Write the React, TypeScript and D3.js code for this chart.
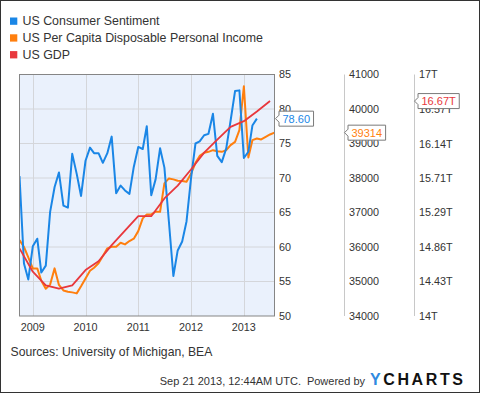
import { useEffect, useRef } from 'react'
import * as d3 from 'd3'

// University of Michigan consumer sentiment, monthly Sep 2008 .. Mar 2013
const sentiment = [
  70.3, 57.6, 55.3, 60.1,
  61.2, 56.3, 57.3, 65.1, 68.7, 70.8, 66.0, 65.7, 73.5, 70.6, 67.4, 72.5,
  74.4, 73.6, 73.6, 72.2, 73.6, 76.0, 67.8, 68.9, 68.2, 67.7, 71.6, 74.5,
  74.2, 77.5, 67.5, 69.8, 74.3, 71.5, 63.7, 55.8, 59.5, 60.8, 63.7, 69.9,
  75.0, 75.3, 76.2, 76.4, 79.3, 73.2, 72.3, 74.3, 78.3, 82.6, 82.7, 72.9,
  73.8, 77.6, 78.6,
]

// per capita disposable personal income, monthly Sep 2008 .. Jul 2013
const income = [
  36200, 36000, 35700, 35380,
  35380, 35020, 34790, 34910, 35380, 34900, 34740, 34705, 34685, 34656, 34860, 35090,
  35310, 35400, 35530, 35740, 35960, 36008, 36008, 36124, 36075, 36172, 36240, 36460,
  36829, 36945, 36945, 37022, 37022, 37843, 37988, 37960, 37920, 37910, 37890, 38120,
  38440, 38640, 38730, 38758, 38807, 38778, 38758, 38807, 38952, 39048, 39387, 40660,
  38596, 39097, 39146, 39117, 39193, 39262, 39314,
]

// nominal GDP (trillions), quarterly Q3 2008 .. Q2 2013
const gdp = [
  14.84, 14.55, 14.38, 14.34, 14.38, 14.57, 14.68, 14.88, 15.06, 15.24,
  15.24, 15.46, 15.62, 15.82, 16.03, 16.19, 16.35, 16.42, 16.54, 16.67,
]

const years = [2009, 2010, 2011, 2012, 2013]
const sentimentTicks = [50, 55, 60, 65, 70, 75, 80, 85]
const incomeTicks = [34000, 35000, 36000, 37000, 38000, 39000, 40000, 41000]
const gdpTicks = [14, 14.43, 14.86, 15.29, 15.71, 16.14, 16.57, 17]

const seriesNames = ['US Consumer Sentiment', 'US Per Capita Disposable Personal Income', 'US GDP']
const colors = ['#1a86e6', '#ff7f0e', '#e8383d']

const FONT = '"Liberation Sans", Arial, sans-serif'

// monthly values are stamped at the end of their month, quarterly at quarter end
const monthEnd = (i: number) => new Date(2008, 9 + i, 1)
const quarterEnd = (i: number) => new Date(2008, 9 + 3 * i, 1)

export default function App() {
  const svgRef = useRef<SVGSVGElement>(null)

  useEffect(() => {
    if (!svgRef.current) return
    const width = 480
    const height = 393
    const plot = { left: 19.5, right: 274.5, top: 74.5, bottom: 316 }

    const svg = d3.select(svgRef.current)
    svg.selectAll('*').remove()
    svg.attr('width', width).attr('height', height)

    svg.append('rect')
      .attr('x', 0.5).attr('y', 0.5).attr('width', width - 1).attr('height', height - 1)
      .attr('fill', '#fff').attr('stroke', '#333')

    const x = d3.scaleTime()
      .domain([new Date(2008, 9, 1), new Date(2013, 7, 1)])
      .range([plot.left, plot.right])
    const ySent = d3.scaleLinear().domain([50, 85]).range([plot.bottom, plot.top])
    const yInc = d3.scaleLinear().domain([34000, 41000]).range([plot.bottom, plot.top])
    const yGdp = d3.scaleLinear().domain([14, 17]).range([plot.bottom, plot.top])

    // Legend
    seriesNames.forEach((name, i) => {
      const y = 17.5 + i * 16.8
      svg.append('rect').attr('x', 10).attr('y', y).attr('width', 7.3).attr('height', 7.3).attr('fill', colors[i])
      svg.append('text').attr('x', 22.5).attr('y', y + 7.6)
        .attr('font-family', FONT).attr('font-size', '12.4px').attr('fill', '#333')
        .text(name)
    })

    // Plot background
    svg.append('rect')
      .attr('x', plot.left).attr('y', plot.top)
      .attr('width', plot.right - plot.left).attr('height', plot.bottom - plot.top)
      .attr('fill', '#eaf1fc')

    const grid = svg.append('g').attr('stroke', '#d4d6da').attr('stroke-width', 1)
    sentimentTicks.slice(1, -1).forEach(t => {
      grid.append('line').attr('x1', plot.left).attr('x2', plot.right)
        .attr('y1', ySent(t)).attr('y2', ySent(t))
    })
    years.forEach(yr => {
      const px = Math.round(x(new Date(yr, 0, 1))) + 0.5
      grid.append('line').attr('x1', px).attr('x2', px).attr('y1', plot.top).attr('y2', plot.bottom)
    })

    svg.append('defs').append('clipPath').attr('id', 'plot-clip')
      .append('rect').attr('x', plot.left).attr('y', plot.top - 2)
      .attr('width', plot.right - plot.left).attr('height', plot.bottom - plot.top + 2)

    const lines = svg.append('g').attr('clip-path', 'url(#plot-clip)')

    const drawLine = (vals: number[], dateOf: (i: number) => Date, y: d3.ScaleLinear<number, number>, color: string, w: number) => {
      const line = d3.line<number>().x((_, i) => x(dateOf(i))).y(d => y(d))
      lines.append('path').datum(vals)
        .attr('fill', 'none').attr('stroke', color).attr('stroke-width', w)
        .attr('stroke-linejoin', 'round')
        .attr('d', line)
    }
    drawLine(income, monthEnd, yInc, colors[1], 2)
    drawLine(sentiment, monthEnd, ySent, colors[0], 2)
    drawLine(gdp, quarterEnd, yGdp, colors[2], 1.8)

    svg.append('rect')
      .attr('x', plot.left).attr('y', plot.top)
      .attr('width', plot.right - plot.left).attr('height', plot.bottom - plot.top)
      .attr('fill', 'none').attr('stroke', '#858585')

    // X axis labels
    years.forEach(yr => {
      svg.append('text')
        .attr('x', x(new Date(yr, 0, 1))).attr('y', 330.5)
        .attr('text-anchor', 'middle')
        .attr('font-family', FONT).attr('font-size', '10.8px').attr('fill', '#333')
        .text(String(yr))
    })

    // Right axes
    const axes = [
      { x: plot.right, ticks: sentimentTicks, scale: ySent, fmt: (v: number) => String(v), line: false },
      { x: 344.5, ticks: incomeTicks, scale: yInc, fmt: (v: number) => String(v), line: true },
      { x: 414.5, ticks: gdpTicks, scale: yGdp, fmt: (v: number) => `${v}T`, line: true },
    ]
    axes.forEach(a => {
      if (a.line) {
        svg.append('line').attr('x1', a.x).attr('x2', a.x)
          .attr('y1', plot.top).attr('y2', plot.bottom)
          .attr('stroke', '#c8c8c8')
      }
      a.ticks.forEach(t => {
        svg.append('text')
          .attr('x', a.x + 4.5).attr('y', a.scale(t))
          .attr('dy', '0.35em')
          .attr('font-family', FONT).attr('font-size', '10.8px').attr('fill', '#333')
          .text(a.fmt(t))
      })
    })

    // Last value flags (drawn over the tick labels, as in the original)
    const flag = (tipX: number, y: number, label: string, color: string) => {
      const g = svg.append('g')
      const path = g.append('path')
      const txt = g.append('text')
        .attr('x', tipX + 7).attr('y', y).attr('dy', '0.36em')
        .attr('font-family', FONT).attr('font-size', '11px').attr('fill', color)
        .text(label)
      const w = (txt.node() as SVGTextElement).getComputedTextLength() + 7
      const bx = tipX + 3.5
      const h = 7.5
      path.attr('d', `M${tipX},${y} L${bx},${y - 3.5} L${bx},${y - h} L${bx + w},${y - h} L${bx + w},${y + h} L${bx},${y + h} L${bx},${y + 3.5} Z`)
        .attr('fill', '#fff').attr('stroke', '#7a7a7a')
    }
    flag(plot.right + 1, ySent(sentiment[sentiment.length - 1]), sentiment[sentiment.length - 1].toFixed(2), colors[0])
    flag(344.5, yInc(income[income.length - 1]), String(income[income.length - 1]), colors[1])
    flag(414.5, yGdp(gdp[gdp.length - 1]), `${gdp[gdp.length - 1].toFixed(2)}T`, colors[2])

    // Footer
    svg.append('text').attr('x', 10.5).attr('y', 356)
      .attr('font-family', FONT).attr('font-size', '12.2px').attr('fill', '#333')
      .text('Sources: University of Michigan, BEA')
    svg.append('text').attr('x', 301).attr('y', 384.5).attr('text-anchor', 'end')
      .attr('font-family', FONT).attr('font-size', '11px').attr('fill', '#333')
      .text('Sep 21 2013, 12:44AM UTC.')
    svg.append('text').attr('x', 365).attr('y', 384.5).attr('text-anchor', 'end')
      .attr('font-family', FONT).attr('font-size', '11px').attr('fill', '#333')
      .text('Powered by')
    const logo = svg.append('text').attr('x', 370).attr('y', 385)
      .attr('font-family', FONT).attr('font-size', '16px').attr('font-weight', 900)
      .attr('letter-spacing', '2.6px')
    logo.append('tspan').attr('fill', '#2f8ae0').text('Y')
    logo.append('tspan').attr('fill', '#111').text('CHARTS')
  }, [])

  return (
    <div style={{ position: 'absolute', left: 0, top: 0 }}>
      <svg ref={svgRef} style={{ display: 'block' }} />
    </div>
  )
}
